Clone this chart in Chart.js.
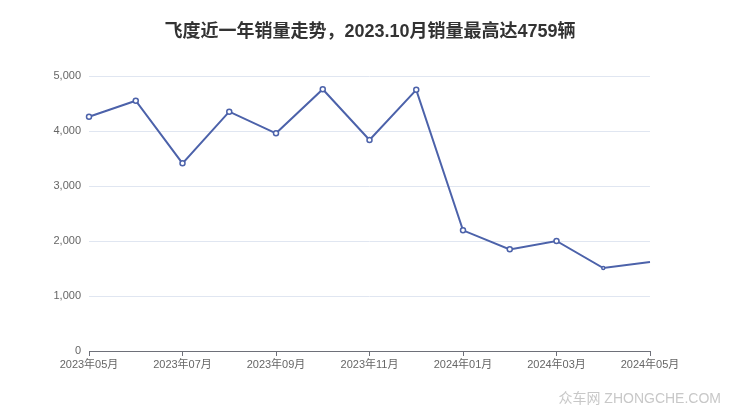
<!DOCTYPE html>
<html>
<head>
<meta charset="utf-8">
<script src="https://cdn.jsdelivr.net/npm/chart.js@4/dist/chart.umd.min.js"></script>
<style>
  html, body { margin: 0; padding: 0; background: #fff; }
  #wrap { width: 740px; height: 417px; }
</style>
</head>
<body>
<div id="wrap"><canvas id="canvas"></canvas></div>
<script>
var chartTitle = '飞度近一年销量走势，2023.10月销量最高达4759辆';
var months = ['2023年05月', '2023年06月', '2023年07月', '2023年08月', '2023年09月', '2023年10月',
  '2023年11月', '2023年12月', '2024年01月', '2024年02月', '2024年03月', '2024年04月', '2024年05月'];
var sales = [4260, 4551, 3412, 4351, 3958, 4759, 3836, 4748, 2194, 1848, 2000, 1509, 1618];
var pointSizes = [2.5, 2.5, 2.5, 2.5, 2.5, 2.5, 2.5, 2.5, 2.5, 2.5, 2.5, 1.5, 0];

var font = '"Liberation Sans", "Noto Sans CJK SC", sans-serif';

// title centred on the whole canvas, plus the site watermark
var decorations = {
  id: 'decorations',
  afterDraw: function(chart) {
    var ctx = chart.ctx;
    ctx.save();
    ctx.textBaseline = 'middle';
    ctx.textAlign = 'center';
    ctx.font = 'bold 18px ' + font;
    ctx.fillStyle = '#333';
    ctx.fillText(chartTitle, chart.width / 2, 32);
    ctx.font = '14px ' + font;
    ctx.fillStyle = '#c8c8c8';
    ctx.textAlign = 'right';
    ctx.fillText('众车网 ZHONGCHE.COM', 721, 399);
    ctx.restore();
  }
};

window.onload = function() {
  var ctx = document.getElementById('canvas').getContext('2d');
  window.myLine = new Chart(ctx, {
    type: 'line',
    data: {
      labels: months,
      datasets: [{
        label: '销量',
        data: sales,
        borderColor: '#4c62aa',
        backgroundColor: '#ffffff',
        borderWidth: 2,
        pointRadius: pointSizes,
        pointBorderWidth: 1.5,
        pointBorderColor: '#4c62aa',
        pointBackgroundColor: '#ffffff',
        tension: 0
      }]
    },
    options: {
      responsive: true,
      maintainAspectRatio: false,
      animation: false,
      layout: { padding: { left: 0, right: 90, top: 76, bottom: 36 } },
      plugins: {
        legend: { display: false },
        tooltip: { enabled: false },
        title: { display: false }
      },
      scales: {
        x: {
          grid: { display: true, drawOnChartArea: false, drawTicks: true, tickLength: 5, color: '#6e7079' },
          border: { display: true, color: '#6e7079', width: 1 },
          ticks: {
            autoSkip: false,
            maxRotation: 0,
            padding: 2,
            color: '#666',
            font: { family: font, size: 11 },
            callback: function(v, i) { return i % 2 === 0 ? months[i] : null; }
          },
          afterFit: function(s) { s.height = 30; }
        },
        y: {
          min: 0,
          max: 5000,
          grid: { color: '#e0e6f1', drawTicks: false },
          border: { display: false },
          ticks: {
            stepSize: 1000,
            padding: 8,
            color: '#666',
            font: { family: font, size: 11 },
            callback: function(v) { return v.toLocaleString('en-US'); }
          },
          afterFit: function(s) { s.width = 89; }
        }
      }
    },
    plugins: [decorations]
  });
};
</script>
</body>
</html>
